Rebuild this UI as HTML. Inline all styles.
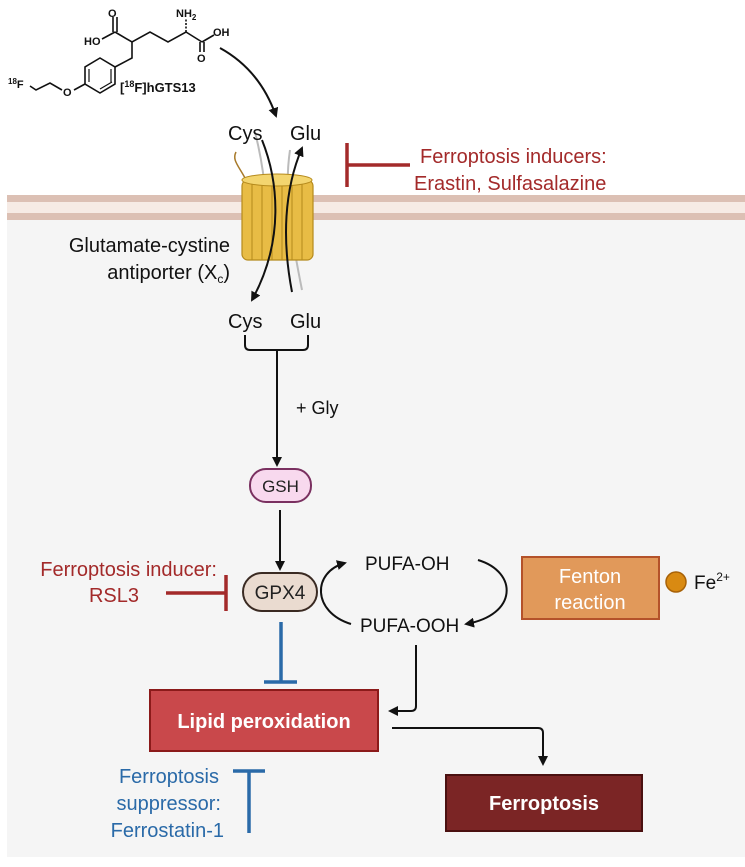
<!DOCTYPE html>
<html><head><meta charset="utf-8"><style>
html,body{margin:0;padding:0;background:#fff}
svg{display:block}
text{font-family:"Liberation Sans",sans-serif}
</style></head><body>
<svg width="745" height="867" viewBox="0 0 745 867" xmlns="http://www.w3.org/2000/svg">
<defs>
<marker id="ah" markerWidth="10" markerHeight="10" refX="8" refY="5" orient="auto" markerUnits="userSpaceOnUse"><path d="M0,0 L10,5 L0,10 Z" fill="#111"/></marker>
</defs>
<rect x="7" y="220" width="738" height="637" fill="#f5f5f5"/>
<rect x="7" y="195" width="738" height="7" fill="#dcc0b4"/>
<rect x="7" y="202" width="738" height="11" fill="#f6ebe5"/>
<rect x="7" y="213" width="738" height="7" fill="#dcc0b4"/>

<!-- molecule -->
<g stroke="#111" stroke-width="1.6" fill="none">
<path d="M115,32 L132,42 L150,32 L168,42 L186,32 L202,42"/>
<path d="M113,32 L113,17 M117,32 L117,17"/>
<path d="M115,32 L102,39"/>
<path d="M202,42 L214,35"/>
<path d="M200,42 L200,52 M204,42 L204,52"/>
<path d="M186,32 L186,19" stroke-dasharray="2,1.5"/>
<path d="M132,42 L132,58 L115,67"/>
<path d="M100,58 L115,67 L115,84 L100,93 L85,84 L85,67 Z"/>
<path d="M89,69 L89,82 M111,69 L111,82 M100,89 L112,82" stroke-width="1.2"/>
<path d="M85,84 L74,90 M62,90 L50,83 L36,90 L30,86"/>
</g>
<g font-size="11" font-weight="bold" fill="#111">
<text x="108" y="17">O</text>
<text x="84" y="45">HO</text>
<text x="176" y="17">NH<tspan font-size="8" dy="3">2</tspan></text>
<text x="213" y="36">OH</text>
<text x="197" y="62">O</text>
<text x="63" y="96">O</text>
<text x="8" y="88"><tspan font-size="8" dy="-4">18</tspan><tspan dy="4">F</tspan></text>
<text x="120" y="92" font-size="13">[<tspan font-size="9" dy="-5">18</tspan><tspan dy="5">F]hGTS13</tspan></text>
</g>
<path d="M220,48 Q260,70 276,116" stroke="#111" stroke-width="2" fill="none" marker-end="url(#ah)"/>

<!-- transporter -->
<g>
<path d="M255,132 C262,160 270,200 264,260" stroke="#bbb" stroke-width="2" fill="none"/>
<path d="M290,150 C284,190 290,230 302,290" stroke="#bbb" stroke-width="2" fill="none"/>
<path d="M245,178 C238,165 232,160 236,152" stroke="#a87a2a" stroke-width="1.5" fill="none"/>
<rect x="242" y="180" width="71" height="80" rx="6" fill="#e8bc45" stroke="#b58a1c" stroke-width="1.2"/>
<g stroke="#b58a1c" stroke-width="1">
<line x1="252" y1="180" x2="252" y2="260"/><line x1="262" y1="180" x2="262" y2="260"/><line x1="272" y1="180" x2="272" y2="260"/><line x1="282" y1="180" x2="282" y2="260"/><line x1="292" y1="180" x2="292" y2="260"/><line x1="302" y1="180" x2="302" y2="260"/>
</g>
<ellipse cx="277" cy="180" rx="35" ry="6" fill="#f3d56f" stroke="#b58a1c"/>
</g>
<path d="M262,140 C278,180 285,240 252,300" stroke="#111" stroke-width="2" fill="none" marker-end="url(#ah)"/>
<path d="M292,292 C282,240 284,190 302,148" stroke="#111" stroke-width="2" fill="none" marker-end="url(#ah)"/>
<g font-size="20" fill="#111">
<text x="228" y="140">Cys</text><text x="290" y="140">Glu</text>
<text x="228" y="328">Cys</text><text x="290" y="328">Glu</text>
<text x="230" y="252" text-anchor="end">Glutamate-cystine</text>
<text x="230" y="279" text-anchor="end">antiporter (X<tspan font-size="12" dy="4">c</tspan><tspan dy="-4">)</tspan></text>
<text x="296" y="414" font-size="18">+ Gly</text>
</g>
<!-- red inducers -->
<g stroke="#a32a2a" stroke-width="3.5"><line x1="347" y1="143" x2="347" y2="187"/><line x1="347" y1="165" x2="410" y2="165"/></g>
<g font-size="20" fill="#a32a2a">
<text x="420" y="163">Ferroptosis inducers:</text>
<text x="414" y="190">Erastin, Sulfasalazine</text>
</g>
<!-- bracket -->
<path d="M245,335 L245,345 Q245,350 250,350 L303,350 Q308,350 308,345 L308,335" stroke="#111" stroke-width="2" fill="none"/>
<line x1="277" y1="350" x2="277" y2="465" stroke="#111" stroke-width="2" marker-end="url(#ah)"/>
<!-- GSH -->
<rect x="250" y="469" width="61" height="33" rx="16" fill="#f8d9ee" stroke="#7a3060" stroke-width="2"/>
<text x="280.5" y="492" font-size="17" text-anchor="middle" fill="#222">GSH</text>
<line x1="280" y1="510" x2="280" y2="569" stroke="#111" stroke-width="2" marker-end="url(#ah)"/>
<!-- GPX4 -->
<rect x="243" y="573" width="74" height="38" rx="19" fill="#eadbd0" stroke="#3a2a22" stroke-width="2"/>
<text x="280" y="599" font-size="19" text-anchor="middle" fill="#222">GPX4</text>
<g stroke="#a32a2a" stroke-width="3.5"><line x1="166" y1="593" x2="226" y2="593"/><line x1="226" y1="575" x2="226" y2="611"/></g>
<g font-size="20" fill="#a32a2a" text-anchor="end">
<text x="217" y="576">Ferroptosis inducer:</text>
<text x="139" y="602">RSL3</text>
</g>
<!-- PUFA cycle -->
<path d="M351,624 C312,612 312,572 345,563" stroke="#111" stroke-width="2" fill="none" marker-end="url(#ah)"/>
<path d="M478,560 C518,572 518,615 466,624" stroke="#111" stroke-width="2" fill="none" marker-end="url(#ah)"/>
<g font-size="19" fill="#111">
<text x="365" y="570">PUFA-OH</text>
<text x="360" y="632">PUFA-OOH</text>
</g>
<path d="M416,645 L416,706 Q416,711 411,711 L390,711" stroke="#111" stroke-width="2" fill="none" marker-end="url(#ah)"/>
<!-- Fenton -->
<rect x="522" y="557" width="137" height="62" fill="#e1995a" stroke="#b4522a" stroke-width="2"/>
<text x="590" y="583" font-size="20" fill="#fff" text-anchor="middle">Fenton</text>
<text x="590" y="609" font-size="20" fill="#fff" text-anchor="middle">reaction</text>
<circle cx="676" cy="582" r="10" fill="#d98a12" stroke="#a86208" stroke-width="1.5"/>
<text x="694" y="589" font-size="19" fill="#111">Fe<tspan font-size="12" dy="-8">2+</tspan></text>
<!-- GPX4 -| lipid -->
<g stroke="#2a6aa8" stroke-width="3.5"><line x1="281" y1="622" x2="281" y2="682"/><line x1="264" y1="682" x2="297" y2="682"/></g>
<!-- Lipid box -->
<rect x="150" y="690" width="228" height="61" fill="#c9484b" stroke="#8b1a1a" stroke-width="2"/>
<text x="264" y="728" font-size="20" font-weight="bold" fill="#fff" text-anchor="middle">Lipid peroxidation</text>
<path d="M392,728 L538,728 Q543,728 543,733 L543,764" stroke="#111" stroke-width="2" fill="none" marker-end="url(#ah)"/>
<rect x="446" y="775" width="196" height="56" fill="#7b2525" stroke="#4a1010" stroke-width="2"/>
<text x="544" y="810" font-size="20" font-weight="bold" fill="#fff" text-anchor="middle">Ferroptosis</text>
<!-- suppressor -->
<g stroke="#2a6aa8" stroke-width="3.5"><line x1="249" y1="771" x2="249" y2="833"/><line x1="233" y1="771" x2="265" y2="771"/></g>
<g font-size="20" fill="#2a6aa8" text-anchor="end">
<text x="219" y="783">Ferroptosis</text>
<text x="221" y="810">suppressor:</text>
<text x="224" y="837">Ferrostatin-1</text>
</g>
</svg>
</body></html>
